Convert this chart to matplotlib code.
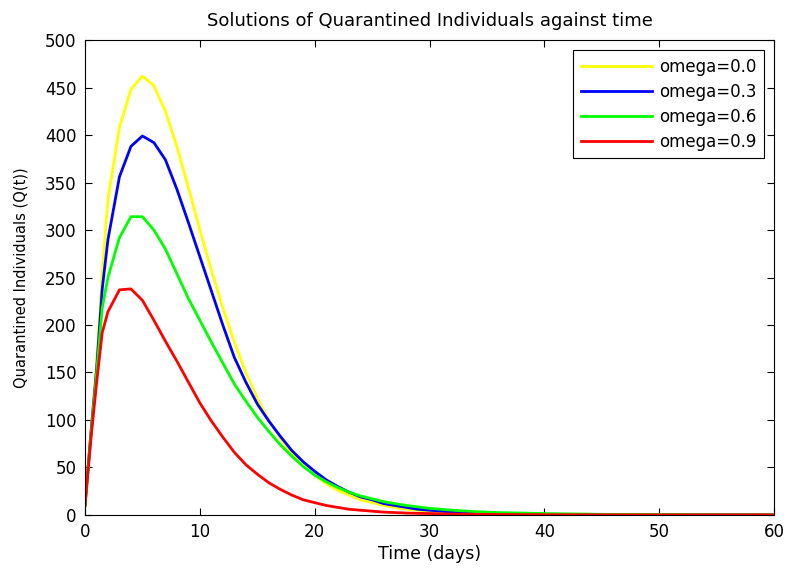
import numpy as np
import matplotlib
matplotlib.use("Agg")
import matplotlib.pyplot as plt

# =============== Data ===============
t_days = [0, 0.5, 1, 1.5, 2, 3, 4, 5, 6, 7, 8, 9, 10, 11, 12, 13, 14, 15, 16, 17, 18, 19, 20,
          21, 22, 23, 24, 25, 26, 27, 28, 29, 30, 32, 34, 36, 38, 40, 45, 50, 55, 60]

q_omega_00 = [10, 85, 158, 255, 332, 408, 448, 462, 452, 425, 388, 345, 300, 258, 218, 182, 150,
              123, 100, 81, 65, 52, 42, 33, 26, 21, 16, 13, 10, 8, 6, 5, 4, 2.5, 1.5, 1.0, 0.7,
              0.5, 0.3, 0.2, 0.1, 0.1]
q_omega_03 = [10, 84, 152, 238, 290, 356, 388, 399, 392, 374, 343, 308, 272, 236, 200, 166, 140,
              117, 99, 83, 68, 56, 46, 37, 30, 24, 19, 16, 12, 10, 8, 6, 5, 3, 2, 1.4, 1.0,
              0.7, 0.4, 0.2, 0.1, 0.1]
q_omega_06 = [10, 82, 148, 218, 250, 292, 314, 314, 300, 280, 254, 228, 205, 182, 160, 138, 120,
              103, 88, 74, 62, 51, 42, 35, 29, 24, 20, 17, 14, 12, 10, 8.5, 7, 5, 3.5, 2.5, 2,
              1.5, 0.7, 0.4, 0.2, 0.1]
q_omega_09 = [10, 78, 138, 192, 214, 237, 238, 226, 205, 183, 162, 140, 118, 99, 82, 66, 53,
              43, 34, 27, 21, 16, 13, 10, 8, 6, 5, 4, 3, 2.5, 2, 1.7, 1.5, 1.0, 0.7, 0.5, 0.4,
              0.3, 0.2, 0.1, 0.1, 0.1]

SERIES = [
    ("omega=0.0", q_omega_00, "#FFFF00"),
    ("omega=0.3", q_omega_03, "#0000FF"),
    ("omega=0.6", q_omega_06, "#00FF00"),
    ("omega=0.9", q_omega_09, "#FF0000"),
]

# =============== Plot ===============
fig = plt.figure(figsize=(7.87, 5.72), dpi=100)
ax = fig.add_axes([0.108, 0.0997, 0.8755, 0.8303])

for label, vals, color in SERIES:
    ax.plot(t_days, vals, color=color, linewidth=2.0, label=label)

ax.set_xlim(0, 60)
ax.set_ylim(0, 500)
ax.set_xticks(np.arange(0, 61, 10))
ax.set_yticks(np.arange(0, 501, 50))
ax.tick_params(direction="in", top=True, right=True, labelsize=12, length=5, pad=6)

ax.set_title("Solutions of Quarantined Individuals against time", fontsize=13, pad=10)
ax.set_xlabel("Time (days)", fontsize=12.5, labelpad=3)
ax.set_ylabel("Quarantined Individuals (Q(t))", fontsize=10.5, labelpad=12)

leg = ax.legend(loc="upper right", fontsize=12, fancybox=False, framealpha=1,
                edgecolor="black", borderpad=0.45, handlelength=4.3, handletextpad=0.4,
                labelspacing=0.42, borderaxespad=0.6)
leg.get_frame().set_linewidth(0.8)

plt.savefig("out.png", dpi=100)
plt.close()
